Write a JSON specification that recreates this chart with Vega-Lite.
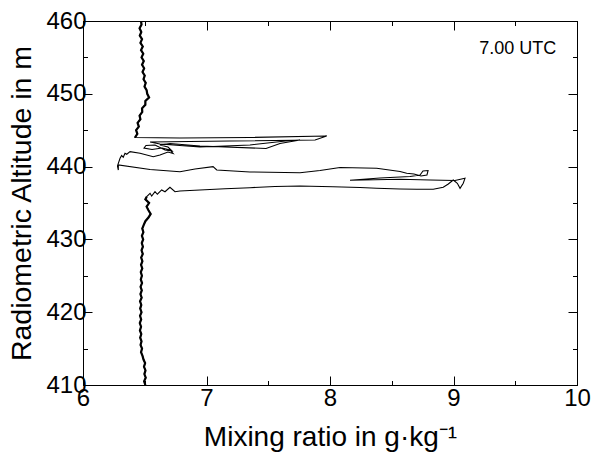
{
  "$schema": "https://vega.github.io/schema/vega-lite/v6.json",
  "width": 494,
  "height": 364,
  "autosize": "none",
  "padding": {"left": 83, "top": 21, "right": 17, "bottom": 75},
  "config": {
    "view": {"stroke": "black", "strokeWidth": 1},
    "axis": {"grid": false, "domainColor": "black", "tickColor": "black", "labelColor": "black", "titleColor": "black", "labelFont": "Liberation Sans", "titleFont": "Liberation Sans", "titleFontWeight": "normal"}
  },
  "data": {"values": [
    {"i":1,"x":6.505,"y":410.0,"part":"below"},{"i":2,"x":6.495,"y":410.5,"part":"below"},{"i":3,"x":6.508,"y":411.0,"part":"below"},{"i":4,"x":6.497,"y":411.5,"part":"below"},{"i":5,"x":6.506,"y":412.0,"part":"below"},{"i":6,"x":6.494,"y":412.5,"part":"below"},{"i":7,"x":6.503,"y":413.0,"part":"below"},{"i":8,"x":6.490,"y":413.5,"part":"below"},{"i":9,"x":6.482,"y":414.0,"part":"below"},{"i":10,"x":6.470,"y":414.5,"part":"below"},
    {"i":11,"x":6.478,"y":415.0,"part":"below"},{"i":12,"x":6.466,"y":415.5,"part":"below"},{"i":13,"x":6.474,"y":416.0,"part":"below"},{"i":14,"x":6.463,"y":416.5,"part":"below"},{"i":15,"x":6.472,"y":417.0,"part":"below"},{"i":16,"x":6.461,"y":417.5,"part":"below"},{"i":17,"x":6.470,"y":418.0,"part":"below"},{"i":18,"x":6.460,"y":418.5,"part":"below"},{"i":19,"x":6.471,"y":419.0,"part":"below"},{"i":20,"x":6.462,"y":419.5,"part":"below"},
    {"i":21,"x":6.474,"y":420.0,"part":"below"},{"i":22,"x":6.463,"y":420.5,"part":"below"},{"i":23,"x":6.472,"y":421.0,"part":"below"},{"i":24,"x":6.462,"y":421.5,"part":"below"},{"i":25,"x":6.475,"y":422.0,"part":"below"},{"i":26,"x":6.465,"y":422.5,"part":"below"},{"i":27,"x":6.476,"y":423.0,"part":"below"},{"i":28,"x":6.466,"y":423.5,"part":"below"},{"i":29,"x":6.478,"y":424.0,"part":"below"},{"i":30,"x":6.468,"y":424.5,"part":"below"},
    {"i":31,"x":6.477,"y":425.0,"part":"below"},{"i":32,"x":6.468,"y":425.5,"part":"below"},{"i":33,"x":6.480,"y":426.0,"part":"below"},{"i":34,"x":6.470,"y":426.5,"part":"below"},{"i":35,"x":6.481,"y":427.0,"part":"below"},{"i":36,"x":6.471,"y":427.5,"part":"below"},{"i":37,"x":6.484,"y":428.0,"part":"below"},{"i":38,"x":6.474,"y":428.5,"part":"below"},{"i":39,"x":6.485,"y":429.0,"part":"below"},{"i":40,"x":6.476,"y":429.5,"part":"below"},
    {"i":41,"x":6.487,"y":430.0,"part":"below"},{"i":42,"x":6.477,"y":430.5,"part":"below"},{"i":43,"x":6.489,"y":431.0,"part":"below"},{"i":44,"x":6.480,"y":431.5,"part":"below"},{"i":45,"x":6.492,"y":432.0,"part":"below"},{"i":46,"x":6.505,"y":432.5,"part":"below"},{"i":47,"x":6.530,"y":433.0,"part":"below"},{"i":48,"x":6.548,"y":433.5,"part":"below"},{"i":49,"x":6.530,"y":434.0,"part":"below"},{"i":50,"x":6.515,"y":434.5,"part":"below"},
    {"i":51,"x":6.535,"y":435.0,"part":"below"},{"i":52,"x":6.505,"y":435.5,"part":"below"},{"i":53,"x":6.516,"y":435.87,"part":"below"},
    {"i":54,"x":6.543,"y":436.33,"part":"layer"},{"i":55,"x":6.556,"y":435.96,"part":"layer"},{"i":56,"x":6.583,"y":436.55,"part":"layer"},{"i":57,"x":6.602,"y":436.20,"part":"layer"},{"i":58,"x":6.637,"y":436.79,"part":"layer"},{"i":59,"x":6.664,"y":436.55,"part":"layer"},{"i":60,"x":6.704,"y":437.16,"part":"layer"},{"i":61,"x":6.745,"y":436.55,"part":"layer"},{"i":62,"x":6.785,"y":436.65,"part":"layer"},
    {"i":63,"x":6.947,"y":436.79,"part":"layer"},{"i":64,"x":7.150,"y":436.96,"part":"layer"},{"i":65,"x":7.352,"y":437.10,"part":"layer"},{"i":66,"x":7.555,"y":437.27,"part":"layer"},{"i":67,"x":7.757,"y":437.34,"part":"layer"},{"i":68,"x":8.024,"y":437.24,"part":"layer"},{"i":69,"x":8.243,"y":437.13,"part":"layer"},{"i":70,"x":8.378,"y":437.02,"part":"layer"},{"i":71,"x":8.567,"y":436.92,"part":"layer"},{"i":72,"x":8.702,"y":436.88,"part":"layer"},
    {"i":73,"x":8.836,"y":436.88,"part":"layer"},{"i":74,"x":8.917,"y":437.16,"part":"layer"},{"i":75,"x":8.958,"y":437.61,"part":"layer"},{"i":76,"x":8.998,"y":438.16,"part":"layer"},{"i":77,"x":9.031,"y":437.71,"part":"layer"},{"i":78,"x":9.053,"y":437.02,"part":"layer"},{"i":79,"x":9.079,"y":437.71,"part":"layer"},{"i":80,"x":9.093,"y":438.39,"part":"layer"},
    {"i":81,"x":9.012,"y":438.09,"part":"layer"},{"i":82,"x":8.810,"y":438.16,"part":"layer"},{"i":83,"x":8.567,"y":438.27,"part":"layer"},{"i":84,"x":8.162,"y":438.12,"part":"layer"},{"i":85,"x":8.405,"y":438.43,"part":"layer"},{"i":86,"x":8.648,"y":438.64,"part":"layer"},{"i":87,"x":8.729,"y":438.85,"part":"layer"},{"i":88,"x":8.753,"y":439.40,"part":"layer"},{"i":89,"x":8.794,"y":439.46,"part":"layer"},{"i":90,"x":8.785,"y":438.85,"part":"layer"},
    {"i":91,"x":8.737,"y":438.71,"part":"layer"},{"i":92,"x":8.680,"y":438.98,"part":"layer"},{"i":93,"x":8.621,"y":439.08,"part":"layer"},{"i":94,"x":8.567,"y":439.33,"part":"layer"},{"i":95,"x":8.378,"y":439.77,"part":"layer"},{"i":96,"x":8.081,"y":439.88,"part":"layer"},{"i":97,"x":7.919,"y":439.46,"part":"layer"},{"i":98,"x":7.757,"y":439.16,"part":"layer"},{"i":99,"x":7.352,"y":439.26,"part":"layer"},{"i":100,"x":7.083,"y":439.53,"part":"layer"},
    {"i":101,"x":7.053,"y":439.99,"part":"layer"},{"i":102,"x":6.907,"y":439.67,"part":"layer"},{"i":103,"x":6.785,"y":439.30,"part":"layer"},{"i":104,"x":6.543,"y":439.60,"part":"layer"},{"i":105,"x":6.286,"y":440.22,"part":"layer"},
    {"i":106,"x":6.286,"y":439.53,"part":"layer"},{"i":107,"x":6.279,"y":440.08,"part":"layer"},{"i":108,"x":6.286,"y":440.45,"part":"layer"},{"i":109,"x":6.300,"y":441.14,"part":"layer"},{"i":110,"x":6.313,"y":441.52,"part":"layer"},{"i":111,"x":6.326,"y":441.28,"part":"layer"},{"i":112,"x":6.340,"y":441.83,"part":"layer"},{"i":113,"x":6.354,"y":441.69,"part":"layer"},{"i":114,"x":6.381,"y":442.05,"part":"layer"},{"i":115,"x":6.462,"y":441.83,"part":"layer"},
    {"i":116,"x":6.569,"y":441.36,"part":"layer"},{"i":117,"x":6.623,"y":441.59,"part":"layer"},{"i":118,"x":6.688,"y":442.01,"part":"layer"},
    {"i":119,"x":6.729,"y":441.80,"part":"layer"},{"i":120,"x":6.704,"y":442.28,"part":"layer"},{"i":121,"x":6.640,"y":442.55,"part":"layer"},{"i":122,"x":6.559,"y":442.35,"part":"layer"},{"i":123,"x":6.494,"y":442.55,"part":"layer"},{"i":124,"x":6.510,"y":442.90,"part":"layer"},{"i":125,"x":6.583,"y":442.97,"part":"layer"},{"i":126,"x":6.664,"y":442.28,"part":"layer"},{"i":127,"x":6.721,"y":442.14,"part":"layer"},{"i":128,"x":6.688,"y":442.69,"part":"layer"},
    {"i":129,"x":6.623,"y":442.97,"part":"layer"},{"i":130,"x":6.704,"y":443.17,"part":"layer"},
    {"i":131,"x":6.947,"y":442.83,"part":"layer"},{"i":132,"x":7.482,"y":442.49,"part":"layer"},{"i":133,"x":7.595,"y":443.17,"part":"layer"},{"i":134,"x":7.757,"y":443.65,"part":"layer"},{"i":135,"x":7.676,"y":443.59,"part":"layer"},{"i":136,"x":7.352,"y":442.97,"part":"layer"},{"i":137,"x":6.947,"y":442.69,"part":"layer"},{"i":138,"x":6.623,"y":443.10,"part":"layer"},{"i":139,"x":6.543,"y":443.38,"part":"layer"},{"i":140,"x":7.190,"y":443.52,"part":"layer"},
    {"i":141,"x":7.879,"y":443.65,"part":"layer"},{"i":142,"x":7.973,"y":444.20,"part":"layer"},{"i":143,"x":7.352,"y":444.00,"part":"layer"},{"i":144,"x":6.785,"y":443.93,"part":"layer"},{"i":145,"x":6.421,"y":444.00,"part":"above"},
    {"i":146,"x":6.440,"y":444.5,"part":"above"},{"i":147,"x":6.430,"y":445.0,"part":"above"},{"i":148,"x":6.452,"y":445.5,"part":"above"},{"i":149,"x":6.442,"y":446.0,"part":"above"},{"i":150,"x":6.465,"y":446.5,"part":"above"},{"i":151,"x":6.458,"y":447.0,"part":"above"},{"i":152,"x":6.480,"y":447.5,"part":"above"},{"i":153,"x":6.478,"y":448.0,"part":"above"},{"i":154,"x":6.505,"y":448.5,"part":"above"},{"i":155,"x":6.505,"y":449.0,"part":"above"},
    {"i":156,"x":6.535,"y":449.5,"part":"above"},{"i":157,"x":6.520,"y":450.0,"part":"above"},{"i":158,"x":6.515,"y":450.5,"part":"above"},{"i":159,"x":6.498,"y":451.0,"part":"above"},{"i":160,"x":6.508,"y":451.5,"part":"above"},{"i":161,"x":6.490,"y":452.0,"part":"above"},{"i":162,"x":6.500,"y":452.5,"part":"above"},{"i":163,"x":6.482,"y":453.0,"part":"above"},{"i":164,"x":6.495,"y":453.5,"part":"above"},{"i":165,"x":6.478,"y":454.0,"part":"above"},
    {"i":166,"x":6.492,"y":454.5,"part":"above"},{"i":167,"x":6.474,"y":455.0,"part":"above"},{"i":168,"x":6.488,"y":455.5,"part":"above"},{"i":169,"x":6.470,"y":456.0,"part":"above"},{"i":170,"x":6.484,"y":456.5,"part":"above"},{"i":171,"x":6.465,"y":457.0,"part":"above"},{"i":172,"x":6.478,"y":457.5,"part":"above"},{"i":173,"x":6.460,"y":458.0,"part":"above"},{"i":174,"x":6.472,"y":458.5,"part":"above"},{"i":175,"x":6.458,"y":459.0,"part":"above"},
    {"i":176,"x":6.474,"y":459.5,"part":"above"},{"i":177,"x":6.470,"y":460.0,"part":"above"}
  ]},
  "layer": [
    {
      "mark": {"type": "line", "color": "black", "strokeWidth": 1.1, "clip": true},
      "encoding": {
        "x": {"field": "x", "type": "quantitative", "scale": {"domain": [6, 10], "nice": false, "zero": false},
          "axis": {"orient": "bottom", "values": [6, 6.5, 7, 7.5, 8, 8.5, 9, 9.5, 10],
            "labelExpr": "datum.value % 1 === 0 ? format(datum.value, 'd') : ''",
            "tickSize": {"condition": {"test": "datum.value % 1 !== 0", "value": -4.5}, "value": -9},
            "labelPadding": 10, "labelFontSize": 24, "labelFlush": false, "labelOverlap": false,
            "title": "Mixing ratio in g·kg⁻¹", "titleFontSize": 28, "titlePadding": 9}},
        "y": {"field": "y", "type": "quantitative", "scale": {"domain": [410, 460], "nice": false, "zero": false},
          "axis": {"orient": "left", "values": [410, 415, 420, 425, 430, 435, 440, 445, 450, 455, 460],
            "labelExpr": "datum.value % 10 === 0 ? format(datum.value, 'd') : ''",
            "tickSize": {"condition": {"test": "datum.value % 10 !== 0", "value": -4.5}, "value": -9},
            "labelPadding": 6, "labelFontSize": 24, "labelFlush": false, "labelOverlap": false,
            "title": "Radiometric Altitude in m", "titleFontSize": 28.5, "titlePadding": 9}},
        "order": {"field": "i", "type": "quantitative"}
      }
    },
    {
      "transform": [{"filter": "datum.part !== 'layer'"}],
      "mark": {"type": "line", "color": "black", "strokeWidth": 2.2, "clip": true},
      "encoding": {
        "x": {"field": "x", "type": "quantitative", "scale": {"domain": [6, 10], "nice": false, "zero": false},
          "axis": {"orient": "top", "values": [6, 6.5, 7, 7.5, 8, 8.5, 9, 9.5, 10], "labels": false, "title": null,
            "tickSize": {"condition": {"test": "datum.value % 1 !== 0", "value": -4.5}, "value": -9}}},
        "y": {"field": "y", "type": "quantitative", "scale": {"domain": [410, 460], "nice": false, "zero": false},
          "axis": {"orient": "right", "values": [410, 415, 420, 425, 430, 435, 440, 445, 450, 455, 460], "labels": false, "title": null,
            "tickSize": {"condition": {"test": "datum.value % 10 !== 0", "value": -4.5}, "value": -9}}},
        "detail": {"field": "part", "type": "nominal"},
        "order": {"field": "i", "type": "quantitative"}
      }
    },
    {
      "data": {"values": [{"x": 9.52, "y": 456.2, "t": "7.00 UTC"}]},
      "mark": {"type": "text", "fontSize": 18, "font": "Liberation Sans", "color": "black", "align": "center", "baseline": "middle"},
      "encoding": {
        "x": {"field": "x", "type": "quantitative", "scale": {"domain": [6, 10], "nice": false, "zero": false}, "axis": null},
        "y": {"field": "y", "type": "quantitative", "scale": {"domain": [410, 460], "nice": false, "zero": false}, "axis": null},
        "text": {"field": "t"}
      }
    }
  ],
  "resolve": {"axis": {"x": "independent", "y": "independent"}}
}
